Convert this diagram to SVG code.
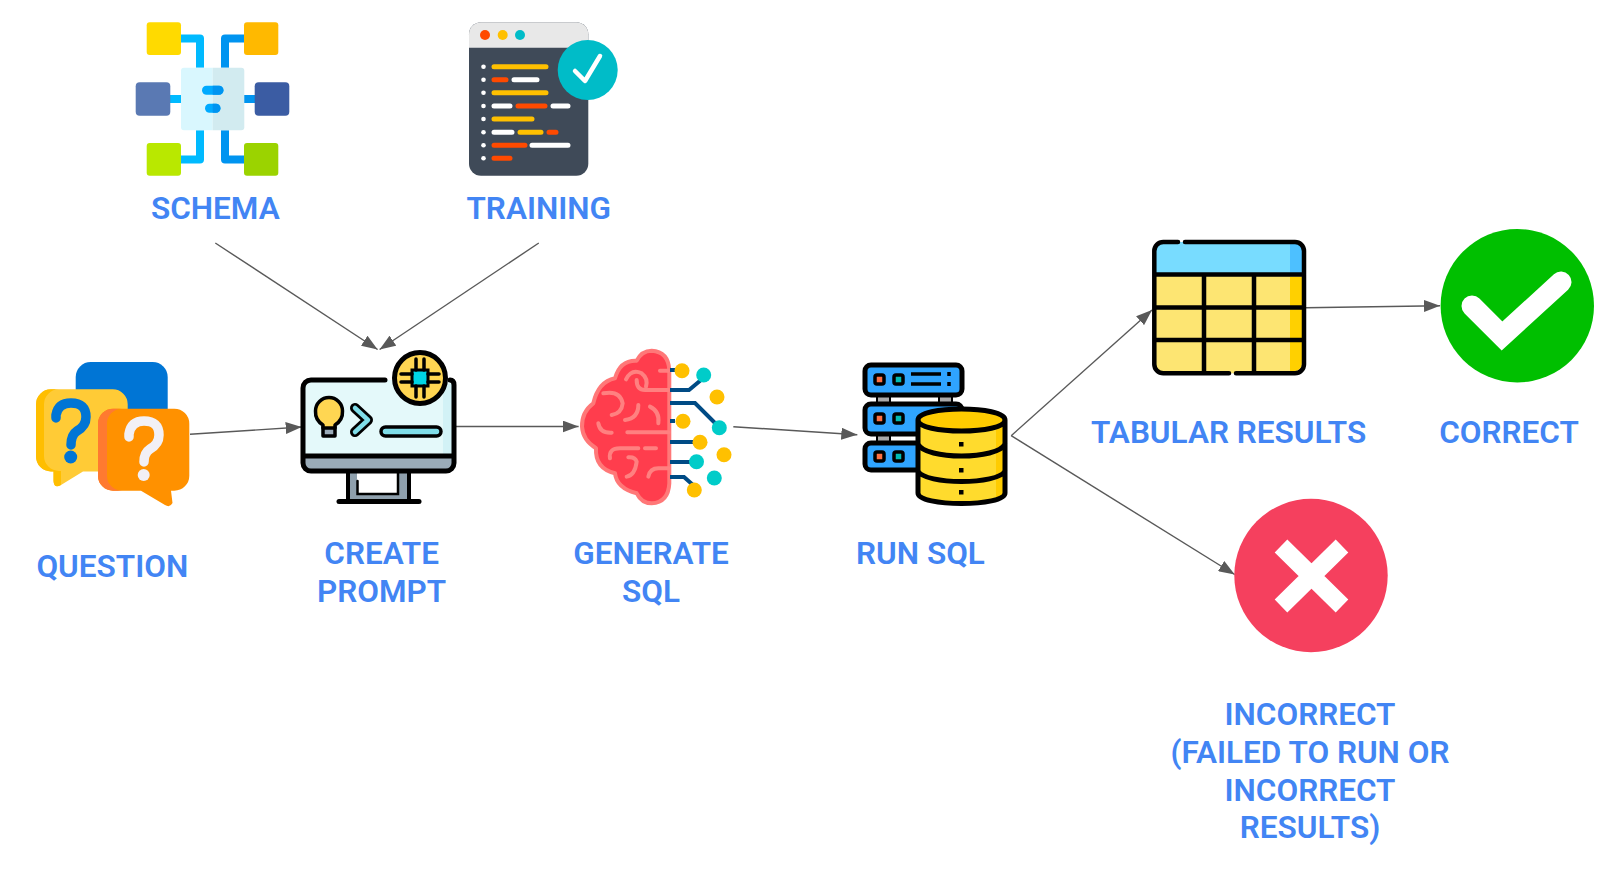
<svg xmlns="http://www.w3.org/2000/svg" width="1600" height="870" viewBox="0 0 1600 870">
<style>
text.l{font-family:Roboto,"Liberation Sans",sans-serif;font-weight:600;font-size:31.500px;fill:#4285f4;text-anchor:middle}
.c{fill:none;stroke:#595959;stroke-width:1.400;marker-end:url(#a)}
.k{stroke:#000;stroke-width:5;stroke-linecap:round;stroke-linejoin:round}
.n{fill:none}
.b{stroke:#004b85;stroke-width:4;fill:none}
.p{fill:none;stroke:#ff8080;stroke-width:12;stroke-linecap:round}
</style>
<defs>
<marker id="a" viewBox="0 0 16 12" refX="16" refY="6" markerWidth="16" markerHeight="12" markerUnits="userSpaceOnUse" orient="auto"><path d="M0 0L16 6L0 12Z" fill="#595959"/></marker>
</defs>
<rect width="1600" height="870" fill="#fff"/>

<g id="connectors">
<line class="c" x1="215.300" y1="243" x2="377.600" y2="349.500"/>
<line class="c" x1="538.800" y1="243" x2="379.600" y2="349.500"/>
<line class="c" x1="190" y1="434.300" x2="301.700" y2="427"/>
<line class="c" x1="455" y1="426.500" x2="578.600" y2="426.500"/>
<line class="c" x1="733.300" y1="426.700" x2="857.300" y2="434.700"/>
<line class="c" x1="1011.200" y1="435.700" x2="1152" y2="310"/>
<line class="c" x1="1011.200" y1="435.700" x2="1234.700" y2="574.500"/>
<line class="c" x1="1305.700" y1="307.700" x2="1440" y2="305.700"/>
</g>

<g id="schema">
<path d="M181 38.500H200V67.700M181 159.500H200V130.300M170 99H181" fill="none" stroke="#00baff" stroke-width="8" stroke-linejoin="round"/>
<path d="M244 38.500H225V67.700M244 159.500H225V130.300M244 99H255" fill="none" stroke="#0094f0" stroke-width="8" stroke-linejoin="round"/>
<rect x="146.700" y="22.300" width="34.300" height="32.700" rx="3" fill="#ffda00"/>
<rect x="244" y="22.300" width="34.300" height="32.700" rx="3" fill="#ffb900"/>
<rect x="135.700" y="82.300" width="34.600" height="33.400" rx="4" fill="#5a79b3"/>
<rect x="254.700" y="82.300" width="34.600" height="33.400" rx="4" fill="#3b5ca3"/>
<rect x="146.700" y="143" width="34.300" height="32.700" rx="3" fill="#b9e800"/>
<rect x="244" y="143" width="34.300" height="32.700" rx="3" fill="#9bd300"/>
<path d="M212.700 67.700H184a3 3 0 0 0-3 3V127.300a3 3 0 0 0 3 3H212.700Z" fill="#d9f7fe"/>
<path d="M212.700 67.700H241.300a3 3 0 0 1 3 3V127.300a3 3 0 0 1-3 3H212.700Z" fill="#d2ebf0"/>
<rect x="202" y="85.700" width="21.500" height="9" rx="4.500" fill="#00aaff"/>
<rect x="205" y="103.700" width="15.500" height="9" rx="4.500" fill="#00aaff"/>
<path d="M212.700 85.700H219a4.500 4.500 0 0 1 0 9H212.700ZM212.700 103.700H216a4.500 4.500 0 0 1 0 9H212.700Z" fill="#0094f0"/>
<text class="l" x="215.300" y="218.500">SCHEMA</text>
</g>

<g id="training">
<rect x="469" y="22.300" width="119.300" height="153.400" rx="12" fill="#3f4a58"/>
<path d="M469 47.700V34.300a12 12 0 0 1 12-12H576.300a12 12 0 0 1 12 12V47.700Z" fill="#e8e8e8"/>
<circle cx="485" cy="35" r="5" fill="#ff4a00"/><circle cx="502.700" cy="35" r="5" fill="#ffc000"/><circle cx="520" cy="35" r="5" fill="#00bcc8"/>
<g fill="#fff"><circle cx="483.500" cy="66.700" r="2.300"/><circle cx="483.500" cy="79.700" r="2.300"/><circle cx="483.500" cy="92.700" r="2.300"/><circle cx="483.500" cy="106" r="2.300"/><circle cx="483.500" cy="119" r="2.300"/><circle cx="483.500" cy="132.300" r="2.300"/><circle cx="483.500" cy="145.300" r="2.300"/><circle cx="483.500" cy="158.300" r="2.300"/></g>
<g fill="none" stroke-width="5" stroke-linecap="round">
<path stroke="#ffc000" d="M494 66.700H546M494 92.700H546M494 119H532M520 132.300H541"/>
<path stroke="#ff4a00" d="M494 79.700H506M518 106H545M549 132.300H556M494 145.300H525M494 158.300H510"/>
<path stroke="#fff" d="M514 79.700H537M494 106H510M553 106H568M494 132.300H512M532 145.300H568"/>
</g>
<circle cx="587.700" cy="70" r="30" fill="#00bcc8"/>
<path d="M575 71L585 81L600 56" fill="none" stroke="#fff" stroke-width="4.500" stroke-linecap="round" stroke-linejoin="round"/>
<text class="l" x="538.800" y="218.500">TRAINING</text>
</g>

<g id="question">
<rect x="75.700" y="362" width="92" height="80" rx="15" fill="#0075d5"/>
<path d="M51 389.300H112.700a15 15 0 0 1 15 15V471.500H83L61 485Q54 489 53.500 481V471.500H51a15 15 0 0 1-15-15V404.300a15 15 0 0 1 15-15Z" fill="#ffcb36"/>
<path d="M51 389.300H59a15 15 0 0 0-15 15V456a15 15 0 0 0 15 15H61V485Q54 489 53.500 481V471.500H51a15 15 0 0 1-15-15V404.300a15 15 0 0 1 15-15Z" fill="#ffbe00"/>
<path d="M113 408.700H174.300a15 15 0 0 1 15 15V475.700a15 15 0 0 1-15 15H171L172.500 503Q170 508 165 505L141 490.700H113a15 15 0 0 1-15-15V423.700a15 15 0 0 1 15-15Z" fill="#ff9100"/>
<path d="M113 408.700H122a15 15 0 0 0-15 15V475.700a15 15 0 0 0 15 15H113a15 15 0 0 1-15-15V423.700a15 15 0 0 1 15-15Z" fill="#ff7a30"/>
<path d="M56 418V415Q58 403 71 403Q86 403 86 417Q86 426 77 431Q71 435 71 445" fill="none" stroke="#0075d5" stroke-width="9.500" stroke-linecap="round"/>
<circle cx="70.700" cy="457" r="6.500" fill="#0075d5"/>
<path d="M129 437V434Q131 421 144 421Q159 421 159 435Q159 444 150 449Q144 453 144 462" fill="none" stroke="#f2f0f5" stroke-width="9.500" stroke-linecap="round"/>
<circle cx="143.700" cy="475" r="6" fill="#f2f0f5"/>
<text class="l" x="112.300" y="577">QUESTION</text>
</g>

<g id="create-prompt">
<path d="M349 470H357V494H398V470H408V499H349Z" fill="#8fa0ad"/>
<path d="M348 470V500M409 470V500" stroke="#000" stroke-width="4"/>
<path d="M357.500 481V494H398V472" fill="none" stroke="#000" stroke-width="2.500" stroke-linecap="round"/>
<path d="M339 501.500H419" class="k n"/>
<path d="M303 456V388a8 8 0 0 1 8-8H446a8 8 0 0 1 8 8V456Z" fill="#e4f9fa"/>
<rect x="443" y="384" width="11" height="72" fill="#d2f2f6"/>
<path d="M303 456H454V463a8 8 0 0 1-8 8H311a8 8 0 0 1-8-8Z" fill="#9aabb8"/>
<path d="M385 380H311a8 8 0 0 0-8 8V463a8 8 0 0 0 8 8H446a8 8 0 0 0 8-8V385Q454 380 450 380M303 456H454" class="k n"/>
<circle cx="420" cy="378" r="25.500" fill="#ffd652" stroke="#000" stroke-width="5"/>
<rect x="412" y="370" width="16" height="16" fill="#00d5e5" stroke="#000" stroke-width="3"/>
<path d="M416 359V370M424 359V370M416 386V397M424 386V397M401 374H412M401 382H412M428 374H439M428 382H439" stroke="#000" stroke-width="3.500" stroke-linecap="round"/>
<rect x="323" y="427" width="12" height="9" fill="#9aabb8" stroke="#000" stroke-width="3.500" stroke-linejoin="round"/>
<path d="M323 428V425Q315 420 315.500 411A13.500 13.500 0 1 1 342.500 411Q343 420 335 425V428Z" fill="#ffd652" stroke="#000" stroke-width="3.500" stroke-linejoin="round"/>
<path d="M355 408L368 420L355 432" fill="none" stroke="#000" stroke-width="10" stroke-linecap="round" stroke-linejoin="round"/>
<path d="M355 408L368 420L355 432" fill="none" stroke="#7fdde8" stroke-width="4.500" stroke-linecap="round" stroke-linejoin="round"/>
<rect x="381" y="427" width="60" height="9" rx="4.500" fill="#7fdde8" stroke="#000" stroke-width="3.500"/>
<text class="l"><tspan x="381.600" y="563.500">CREATE</tspan><tspan x="381.600" y="601.500">PROMPT</tspan></text>
</g>

<g id="generate-sql">
<path d="M669.300 370Q668.300 351.700 651.700 350.700Q641.700 350.700 636.700 360.700Q620 360 615 378.300Q598.300 381.700 593.300 403.300Q581.700 411.700 582 426.700Q582.700 440 596 448.300Q595 468.300 615 473.300Q616.700 488.300 636.700 493.300Q641.700 503.300 651.700 503.300Q668.300 502.300 669.300 483.300Z" fill="#ff3d4d" stroke="#ff7878" stroke-width="4" stroke-linejoin="round"/>
<g transform="translate(570 340) scale(.3333)">
<path class="p" d="M168 118Q185 85 215 100Q235 115 228 140M200 120Q200 150 225 150H296M270 92H296M100 160Q150 150 158 190Q155 220 125 225M205 195Q205 235 165 240M240 200Q270 215 265 250M85 250Q90 280 125 278M172 277H296M120 355Q115 325 150 325H205M225 325H258M170 410Q195 405 200 365Q195 350 175 352M235 410Q240 385 265 385H296"/>
</g>
<g class="b"><path d="M670 370H675"/><path d="M670 390H689L701 380"/><path d="M670 403H695L715 423"/><path d="M670 421H675"/><path d="M670 442H695"/><path d="M670 462H695"/><path d="M670 477H684L693 485"/></g>
<g fill="#ffc000"><circle cx="682" cy="370.700" r="7.500"/><circle cx="717" cy="397" r="7.500"/><circle cx="683" cy="421.300" r="7.500"/><circle cx="700" cy="442.300" r="7.500"/><circle cx="724" cy="454.700" r="7.500"/><circle cx="694.300" cy="490" r="7.500"/></g>
<g fill="#00ccc9"><circle cx="703.700" cy="375" r="7.500"/><circle cx="719.300" cy="427.700" r="7.500"/><circle cx="696.500" cy="461.700" r="7.500"/><circle cx="714.300" cy="478" r="7.500"/></g>
<text class="l"><tspan x="651" y="563.500">GENERATE</tspan><tspan x="651" y="601.500">SQL</tspan></text>
</g>

<g id="run-sql">
<rect x="877" y="395" width="13" height="8" fill="#aaa" stroke="#000" stroke-width="2"/>
<rect x="939" y="395" width="13" height="8" fill="#aaa" stroke="#000" stroke-width="2"/>
<rect x="877" y="434" width="13" height="8" fill="#aaa" stroke="#000" stroke-width="2"/>
<rect x="865" y="365" width="97" height="30" rx="6" fill="#2fa4ff" class="k"/>
<rect x="865" y="404" width="97" height="30" rx="6" fill="#2fa4ff" class="k"/>
<rect x="865" y="443" width="97" height="27" rx="6" fill="#2fa4ff" class="k"/>
<g fill="#ff7043" stroke="#000" stroke-width="3.500"><rect x="875" y="375" width="9" height="9" rx="2"/><rect x="875" y="414" width="9" height="9" rx="2"/><rect x="875" y="452" width="9" height="9" rx="2"/></g>
<g fill="#00bcb4" stroke="#000" stroke-width="3.500"><rect x="894" y="375" width="9" height="9" rx="2"/><rect x="894" y="414" width="9" height="9" rx="2"/><rect x="894" y="452" width="9" height="9" rx="2"/></g>
<path d="M911 374H941M911 384H941" stroke="#000" stroke-width="3.500"/>
<path d="M949 372V376M949 382V386" stroke="#000" stroke-width="3.500"/>
<path d="M918 420V493C918 507 1005 507 1005 493V420Z" fill="#ffdb2d"/>
<path d="M996 430V502Q1003 498 1005 493V420Z" fill="#ffcc00"/>
<path d="M918 420C918 405.300 1005 405.300 1005 420C1005 434.700 918 434.700 918 420Z" fill="#ffcc00"/>
<path d="M918 420V493C918 507 1005 507 1005 493V420M918 420C918 405.300 1005 405.300 1005 420C1005 434.700 918 434.700 918 420M918 444C925 460 998 460 1005 444M918 471C925 485 998 485 1005 471" class="k n"/>
<g fill="#000"><rect x="959" y="442" width="4.500" height="4.500"/><rect x="959" y="468" width="4.500" height="4.500"/><rect x="959" y="490" width="4.500" height="4.500"/></g>
<text class="l" x="920.500" y="563.500">RUN SQL</text>
</g>

<g id="tabular-results">
<rect x="1154.300" y="242" width="149.700" height="131.300" rx="9" fill="#fde572"/>
<path d="M1154.300 273V251a9 9 0 0 1 9-9H1295a9 9 0 0 1 9 9V273Z" fill="#78dcff"/>
<rect x="1290" y="244" width="14" height="29" fill="#4dc0ff"/>
<path d="M1290 277H1302V363a8 8 0 0 1-8 8H1290Z" fill="#ffd000"/>
<path d="M1178 242H1163.300a9 9 0 0 0-9 9V364.300a9 9 0 0 0 9 9H1229M1236 373.300H1295a9 9 0 0 0 9-9V251a9 9 0 0 0-9-9H1185M1154.300 274.500H1304M1154.300 307.500H1304M1154.300 340H1304M1204 275V373M1254 275V373" fill="none" stroke="#000" stroke-width="4.500" stroke-linecap="round"/>
<text class="l" x="1228.600" y="442.500">TABULAR RESULTS</text>
</g>

<g id="correct">
<circle cx="1517.300" cy="305.700" r="76.700" fill="#00bf00"/>
<path d="M1472 306L1502 336L1561 282" fill="none" stroke="#fff" stroke-width="21" stroke-linecap="round" stroke-linejoin="miter"/>
<text class="l" x="1509" y="442.500">CORRECT</text>
</g>

<g id="incorrect">
<circle cx="1311" cy="575.500" r="76.700" fill="#f5405e"/>
<path d="M1281 546L1342 606M1342 546L1281 606" stroke="#fff" stroke-width="18"/>
<text class="l"><tspan x="1310" y="725">INCORRECT</tspan><tspan x="1310" y="762.500">(FAILED TO RUN OR</tspan><tspan x="1310" y="800.500">INCORRECT</tspan><tspan x="1310" y="838">RESULTS)</tspan></text>
</g>
</svg>
